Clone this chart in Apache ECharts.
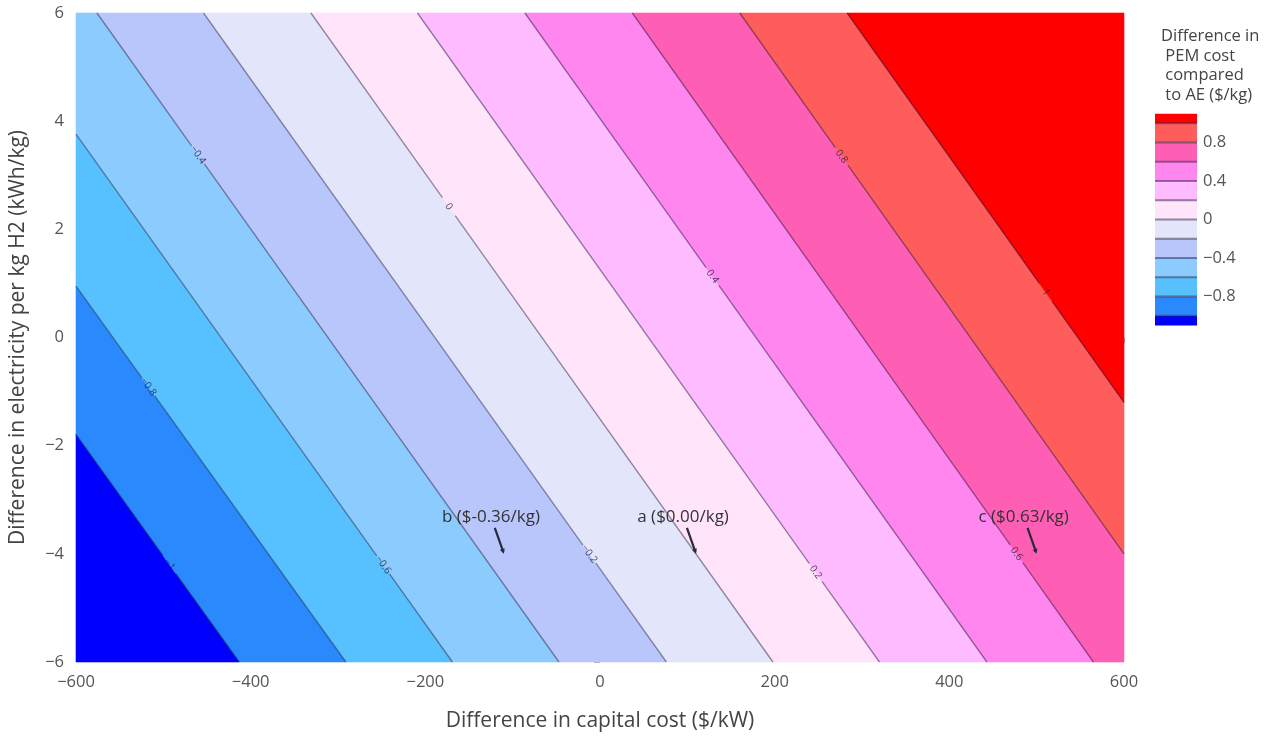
<!DOCTYPE html>
<html><head><meta charset="utf-8">
<script src="https://cdn.jsdelivr.net/npm/echarts@6/dist/echarts.min.js"></script>
<style>html,body{margin:0;padding:0;background:#fff}#c{width:1273px;height:740px}</style>
</head><body><div id="c"></div>
<script>
// contour lines: each level's crossing points with the plot edges
const contourLevels = [-1, -0.8, -0.6, -0.4, -0.2, 0, 0.2, 0.4, 0.6, 0.8, 1];
const lineStartX = [-600, -600, -600, -576, -454, -331, -209, -86, 37, 160, 283];
const lineStartY = [-1.79, 0.95, 3.76, 6, 6, 6, 6, 6, 6, 6, 6];
const lineEndX   = [-413, -291, -169, -47, 76, 198, 320, 443, 565, 600, 600];
const lineEndY   = [-6, -6, -6, -6, -6, -6, -6, -6, -6, -4.0, -1.2];
// contour label positions
const labelX = [-493, -517, -248, -460, -12, -173, 247, 129, 477, 277, 510];
const labelY = [-4.2, -0.91, -4.2, 3.38, -4.0, 2.42, -4.34, 1.13, -4.0, 3.35, 0.83];
// fill colours, lowest band (< -1) to highest band (> 1)
const bandColors = ['#0000ff', '#2b89fe', '#57c0fe', '#8bcbfe', '#b9c6fb', '#e3e5fa',
                    '#ffe4fa', '#ffbbff', '#ff86ef', '#ff5eb5', '#ff5c5c', '#ff0000'];
// annotated points
const annotX = [-110, 110, 500];
const annotY = [-4, -4, -4];
const annotText = ['b ($-0.36/kg)', 'a ($0.00/kg)', 'c ($0.63/kg)'];
// axes
const xRange = [-600, 600];
const yRange = [-6, 6];
const colorbarRange = [-1.1, 1.1];

const FONT = '"Open Sans", "Noto Sans", sans-serif';
const fmt = v => (v < 0 ? '\u2212' + Math.abs(v) : String(v));

function clipHalf(poly, i, keepHigh) {
  const x1 = lineStartX[i], y1 = lineStartY[i];
  const dx = lineEndX[i] - x1, dy = lineEndY[i] - y1;
  const side = p => { const c = dx * (p[1] - y1) - dy * (p[0] - x1); return keepHigh ? c : -c; };
  const out = [];
  for (let k = 0; k < poly.length; k++) {
    const a = poly[k], b = poly[(k + 1) % poly.length];
    const sa = side(a), sb = side(b);
    if (sa >= 0) out.push(a);
    if ((sa >= 0) !== (sb >= 0)) {
      const t = sa / (sa - sb);
      out.push([a[0] + t * (b[0] - a[0]), a[1] + t * (b[1] - a[1])]);
    }
  }
  return out;
}

function renderBand(params, api) {
  const k = params.dataIndex;
  let poly = [[xRange[0], yRange[1]], [xRange[1], yRange[1]], [xRange[1], yRange[0]], [xRange[0], yRange[0]]];
  if (k > 0) poly = clipHalf(poly, k - 1, true);
  if (k < contourLevels.length) poly = clipHalf(poly, k, false);
  if (poly.length < 3) return;
  return {
    type: 'polygon',
    shape: { points: poly.map(p => api.coord(p)) },
    style: { fill: bandColors[k], stroke: bandColors[k], lineWidth: 0.6 }
  };
}

function renderLine(params, api) {
  const i = params.dataIndex;
  const p1 = api.coord([lineStartX[i], lineStartY[i]]);
  const p2 = api.coord([lineEndX[i], lineEndY[i]]);
  const L0 = api.coord([labelX[i], labelY[i]]);
  const vx = p2[0] - p1[0], vy = p2[1] - p1[1];
  const len = Math.hypot(vx, vy);
  const ux = vx / len, uy = vy / len;
  const t = (L0[0] - p1[0]) * ux + (L0[1] - p1[1]) * uy;
  const L = [p1[0] + ux * t, p1[1] + uy * t];
  const gap = 11;
  const stroke = 'rgba(10,10,50,0.45)';
  const ang = Math.atan2(vy, vx);
  return {
    type: 'group',
    children: [
      { type: 'line', shape: { x1: p1[0], y1: p1[1], x2: L[0] - ux * gap, y2: L[1] - uy * gap }, style: { stroke, lineWidth: 1.3 } },
      { type: 'line', shape: { x1: L[0] + ux * gap, y1: L[1] + uy * gap, x2: p2[0], y2: p2[1] }, style: { stroke, lineWidth: 1.3 } },
      { type: 'text', x: L[0], y: L[1], rotation: -ang,
        style: { text: fmt(contourLevels[i]), fill: 'rgba(30,30,60,0.8)', font: '10px ' + FONT, align: 'center', verticalAlign: 'middle' } }
    ]
  };
}

function renderAnnot(params, api) {
  const i = params.dataIndex;
  const p = api.coord([annotX[i], annotY[i]]);
  const tc = [p[0] - 13, p[1] - 37];
  const dx = p[0] - tc[0], dy = p[1] - tc[1];
  const d = Math.hypot(dx, dy);
  const ux = dx / d, uy = dy / d;
  const s = 11 / uy;
  const start = [tc[0] + ux * s, tc[1] + uy * s];
  const head = 5;
  const px = -uy, py = ux;
  return {
    type: 'group',
    children: [
      { type: 'text', x: tc[0], y: tc[1],
        style: { text: annotText[i], fill: '#333', font: '17px ' + FONT, align: 'center', verticalAlign: 'middle' } },
      { type: 'line', shape: { x1: start[0], y1: start[1], x2: p[0] - ux * 2, y2: p[1] - uy * 2 }, style: { stroke: '#2a2a3a', lineWidth: 2.2 } },
      { type: 'polygon', shape: { points: [[p[0], p[1]], [p[0] - ux * head + px * 2.5, p[1] - uy * head + py * 2.5], [p[0] - ux * head - px * 2.5, p[1] - uy * head - py * 2.5]] },
        style: { fill: '#2a2a3a' } }
    ]
  };
}

function renderBar(params, api) {
  const k = params.dataIndex;
  const lo = k === 0 ? colorbarRange[0] : contourLevels[k - 1];
  const hi = k === contourLevels.length ? colorbarRange[1] : contourLevels[k];
  const a = api.coord([0, hi]), b = api.coord([1, lo]);
  const children = [{ type: 'rect', shape: { x: a[0], y: a[1], width: b[0] - a[0], height: b[1] - a[1] }, style: { fill: bandColors[k] } }];
  if (k > 0) {
    children.push({ type: 'line', shape: { x1: a[0], y1: b[1], x2: b[0], y2: b[1] }, style: { stroke: 'rgba(40,30,70,0.5)', lineWidth: 2 } });
  }
  return { type: 'group', children };
}

const chart = echarts.init(document.getElementById('c'), null, { renderer: 'canvas' });
chart.setOption({
  animation: false,
  backgroundColor: '#fff',
  textStyle: { fontFamily: FONT },
  title: {
    text: 'Difference in\n PEM cost\n compared\n to AE ($/kg)',
    left: 1156, top: 22,
    textStyle: { fontSize: 16.5, fontWeight: 'normal', color: '#444', lineHeight: 19.5, fontFamily: FONT }
  },
  grid: [
    { left: 76, right: 149, top: 13, bottom: 78 },
    { left: 1155, width: 42, top: 104, height: 231 }
  ],
  xAxis: [
    { type: 'value', gridIndex: 0, min: xRange[0], max: xRange[1], interval: 200,
      name: 'Difference in capital cost ($/kW)', nameLocation: 'middle', nameGap: 49,
      nameTextStyle: { fontSize: 21, color: '#444', fontFamily: FONT },
      axisLine: { show: false }, splitLine: { show: false },
      axisTick: { show: true, length: 6, lineStyle: { color: '#aaa' } },
      axisLabel: { margin: 12, fontSize: 16.5, color: '#555', formatter: fmt } },
    { type: 'value', gridIndex: 1, min: 0, max: 1, show: false }
  ],
  yAxis: [
    { type: 'value', gridIndex: 0, min: yRange[0], max: yRange[1], interval: 2,
      name: 'Difference in electricity per kg H2 (kWh/kg)', nameLocation: 'middle', nameGap: 47,
      nameTextStyle: { fontSize: 21, color: '#444', fontFamily: FONT },
      axisLine: { show: false }, splitLine: { show: false },
      axisTick: { show: true, length: 6, lineStyle: { color: '#aaa' } },
      axisLabel: { margin: 12, fontSize: 16.5, color: '#555', formatter: fmt } },
    { type: 'value', gridIndex: 1, min: -1.2, max: 1.2, interval: 0.4, position: 'right',
      axisLine: { show: false }, axisTick: { show: false }, splitLine: { show: false },
      axisLabel: { margin: 6, fontSize: 16.5, color: '#555',
        formatter: v => (Math.abs(v) > 1 ? '' : fmt(Math.round(v * 10) / 10)) } }
  ],
  series: [
    { type: 'custom', name: 'bands', xAxisIndex: 0, yAxisIndex: 0, renderItem: renderBand,
      data: bandColors.map(() => [0, 0]), silent: true, z: 1 },
    { type: 'custom', name: 'contours', xAxisIndex: 0, yAxisIndex: 0, renderItem: renderLine,
      data: contourLevels.map(() => [0, 0]), silent: true, z: 2 },
    { type: 'custom', name: 'points', xAxisIndex: 0, yAxisIndex: 0, renderItem: renderAnnot,
      data: annotX.map((x, i) => [x, annotY[i]]), silent: true, z: 3 },
    { type: 'custom', name: 'colorbar', xAxisIndex: 1, yAxisIndex: 1, renderItem: renderBar,
      data: bandColors.map(() => [0, 0]), silent: true, z: 1 }
  ]
});
</script>
</body></html>
